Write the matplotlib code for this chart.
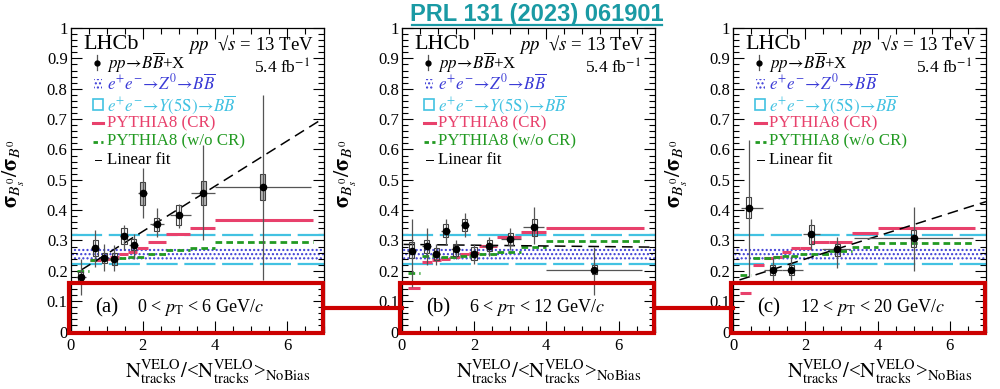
import numpy as np
import matplotlib
matplotlib.use("Agg")
import matplotlib.pyplot as plt
from matplotlib.lines import Line2D
from matplotlib.patches import Rectangle
from matplotlib.ticker import MultipleLocator, FuncFormatter

plt.rcParams['font.family'] = ['Liberation Serif', 'DejaVu Serif']
plt.rcParams['mathtext.fontset'] = 'stix'
plt.rcParams['hatch.linewidth'] = 1.0

# ============================================================
# 1. Data
# ============================================================
# PYTHIA8 bins (same for all panels)
py_lo = [0.18, 0.55, 0.85, 1.10, 1.35, 1.60, 1.85, 2.15, 2.65, 3.30, 4.00]
py_hi = [0.50, 0.85, 1.10, 1.35, 1.60, 1.85, 2.15, 2.65, 3.30, 4.00, 6.70]

# e+e- references
z0_band = [0.232, 0.278]
y5s_band = [0.222, 0.317]

# --- panel (a): 0 < pT < 6 GeV/c
a_x = [0.28, 0.68, 0.94, 1.21, 1.48, 1.75, 2.00, 2.39, 3.00, 3.67, 5.32]
a_xlo = [0.16, 0.56, 0.82, 1.09, 1.36, 1.62, 1.88, 2.20, 2.75, 3.33, 4.00]
a_xhi = [0.42, 0.80, 1.07, 1.34, 1.60, 1.87, 2.12, 2.60, 3.33, 4.00, 6.65]
a_y = [0.180, 0.274, 0.242, 0.240, 0.315, 0.285, 0.455, 0.355, 0.383, 0.455, 0.475]
a_stat_lo = [0.12, 0.213, 0.200, 0.200, 0.270, 0.240, 0.374, 0.310, 0.340, 0.301, 0.170]
a_stat_hi = [0.24, 0.334, 0.290, 0.285, 0.350, 0.320, 0.539, 0.407, 0.420, 0.614, 0.780]
a_sys_lo = [0.165, 0.250, 0.225, 0.220, 0.290, 0.268, 0.417, 0.330, 0.351, 0.416, 0.433]
a_sys_hi = [0.195, 0.300, 0.260, 0.260, 0.340, 0.305, 0.494, 0.374, 0.417, 0.497, 0.518]
a_cr = [0.164, 0.235, 0.238, 0.245, 0.255, 0.263, 0.274, 0.296, 0.321, 0.340, 0.367]
a_nocr = [0.200, 0.237, 0.238, 0.240, 0.242, 0.244, 0.246, 0.255, 0.268, 0.276, 0.296]
a_fit_x = [0.30, 7.00]
a_fit_y = [0.203, 0.703]

# --- panel (b): 6 < pT < 12 GeV/c
b_x = [0.28, 0.69, 0.95, 1.22, 1.49, 1.75, 2.00, 2.42, 3.00, 3.67, 5.33]
b_xlo = [0.16, 0.57, 0.83, 1.10, 1.37, 1.63, 1.88, 2.22, 2.75, 3.35, 4.00]
b_xhi = [0.40, 0.81, 1.07, 1.34, 1.61, 1.87, 2.12, 2.62, 3.30, 3.95, 6.66]
b_y = [0.265, 0.282, 0.255, 0.331, 0.271, 0.351, 0.255, 0.282, 0.305, 0.345, 0.203]
b_stat_lo = [0.147, 0.219, 0.220, 0.285, 0.240, 0.310, 0.222, 0.250, 0.270, 0.290, 0.120]
b_stat_hi = [0.370, 0.341, 0.290, 0.372, 0.300, 0.392, 0.290, 0.312, 0.340, 0.410, 0.280]
b_sys_lo = [0.241, 0.260, 0.235, 0.310, 0.250, 0.330, 0.235, 0.265, 0.285, 0.315, 0.188]
b_sys_hi = [0.296, 0.302, 0.275, 0.355, 0.290, 0.372, 0.278, 0.300, 0.325, 0.372, 0.220]
b_cr = [0.144, 0.230, 0.235, 0.240, 0.245, 0.255, 0.260, 0.283, 0.310, 0.329, 0.340]
b_nocr = [0.194, 0.249, 0.248, 0.247, 0.247, 0.248, 0.250, 0.256, 0.263, 0.279, 0.298]
b_fit_x = [0.05, 7.00]
b_fit_y = [0.287, 0.278]

# --- panel (c): 12 < pT < 20 GeV/c
c_x = [0.44, 1.10, 1.61, 2.17, 2.88, 5.00]
c_xlo = [0.22, 0.85, 1.35, 1.95, 2.45, 3.35]
c_xhi = [0.83, 1.35, 1.95, 2.40, 3.25, 6.65]
c_y = [0.408, 0.203, 0.203, 0.320, 0.271, 0.307]
c_stat_lo = [0.180, 0.160, 0.170, 0.270, 0.210, 0.200]
c_stat_hi = [0.630, 0.245, 0.250, 0.370, 0.310, 0.410]
c_sys_lo = [0.373, 0.185, 0.185, 0.290, 0.250, 0.280]
c_sys_hi = [0.444, 0.220, 0.220, 0.350, 0.290, 0.335]
c_cr = [0.126, 0.219, 0.243, 0.245, 0.263, 0.276, 0.276, 0.294, 0.294, 0.325, 0.340]
c_nocr = [0.186, 0.243, 0.243, 0.245, 0.248, 0.250, 0.255, 0.255, 0.265, 0.279, 0.293]
c_fit_x = [0.18, 7.00]
c_fit_y = [0.170, 0.428]

labels_panel = ["(a)", "(b)", "(c)"]
labels_pt = [r"0 < $p_{\rm T}$ < 6 GeV/$c$",
             r"6 < $p_{\rm T}$ < 12 GeV/$c$",
             r"12 < $p_{\rm T}$ < 20 GeV/$c$"]

legend_labels = [r"$pp\!\rightarrow\!B\overline{B}$+X",
                 r"$e^{+}e^{-}\!\rightarrow\!Z^{0}\!\rightarrow\!B\overline{B}$",
                 r"$e^{+}e^{-}\!\rightarrow\!Y\mathrm{(5S)}\!\rightarrow\!B\overline{B}$",
                 "PYTHIA8 (CR)", "PYTHIA8 (w/o CR)", "Linear fit"]

# ============================================================
# 2. Styles
# ============================================================
RED = "#e8416c"
GREEN = "#229a22"
CYAN = "#42c2e2"
BLUE = "#3b3bd6"
BOXRED = "#cc0000"
legend_colors = ["black", BLUE, CYAN, RED, GREEN, "black"]

fig = plt.figure(figsize=(10, 3.89), dpi=100)
lefts = [0.0705, 0.4017, 0.733]
W, B, H = 0.253, 0.1478, 0.780

panels = [
    dict(x=a_x, xlo=a_xlo, xhi=a_xhi, y=a_y, slo=a_stat_lo, shi=a_stat_hi,
         ylo=a_sys_lo, yhi=a_sys_hi, cr=a_cr, nocr=a_nocr, fx=a_fit_x, fy=a_fit_y, shade=[6, 9, 10]),
    dict(x=b_x, xlo=b_xlo, xhi=b_xhi, y=b_y, slo=b_stat_lo, shi=b_stat_hi,
         ylo=b_sys_lo, yhi=b_sys_hi, cr=b_cr, nocr=b_nocr, fx=b_fit_x, fy=b_fit_y, shade=[]),
    dict(x=c_x, xlo=c_xlo, xhi=c_xhi, y=c_y, slo=c_stat_lo, shi=c_stat_hi,
         ylo=c_sys_lo, yhi=c_sys_hi, cr=c_cr, nocr=c_nocr, fx=c_fit_x, fy=c_fit_y, shade=[]),
]

xlabel = (r"$\mathrm{N}_{\mathrm{tracks}}^{\mathrm{VELO}}/$<"
          r"$\mathrm{N}_{\mathrm{tracks}}^{\mathrm{VELO}}$>$_{\mathrm{NoBias}}$")


def draw_legend(ax):
    # hand-placed legend, ROOT style
    T = ax.transAxes
    ys = [0.886, 0.816, 0.748, 0.687, 0.625, 0.564]
    hx0, hx1, tx = 0.087, 0.130, 0.144
    hh = 0.017
    ym = ys[0]
    ax.plot([0.104, 0.104], [ym - 0.024, ym + 0.024], color="#555555", lw=0.9, transform=T)
    ax.plot([0.104], [ym], "o", color="black", ms=3.5, transform=T)
    ax.add_patch(Rectangle((hx0 + 0.004, ys[1] - hh), 0.034, 2 * hh, transform=T,
                           facecolor="none", edgecolor=BLUE, hatch="....", lw=0))
    ax.add_patch(Rectangle((hx0, ys[2] - hh), 0.040, 2 * hh, transform=T,
                           facecolor="none", edgecolor=CYAN, lw=1.2))
    ax.plot([hx0, hx1], [ys[3]] * 2, color=RED, lw=2.2, transform=T)
    ax.plot([hx0, hx1], [ys[4]] * 2, color=GREEN, lw=2.0, dashes=(1.6, 1.2), transform=T)
    ax.plot([hx0 + 0.008, hx1 - 0.008], [ys[5]] * 2, color="black", lw=0.7, transform=T)
    for yv, lab, col in zip(ys, legend_labels, legend_colors):
        ax.text(tx, yv, lab, color=col, fontsize=12.2, va="center", transform=T)


axes = []
for i, p in enumerate(panels):
    ax = fig.add_axes([lefts[i], B, W, H])
    axes.append(ax)
    ax.set_xlim(0, 7)
    ax.set_ylim(0, 1)

    # e+e- references
    ax.fill_between([0, 7], z0_band[0], z0_band[1], facecolor="none",
                    edgecolor=BLUE, hatch="....", linewidth=0, zorder=1)
    for yv in y5s_band:
        ax.plot([0, 7], [yv, yv], color=CYAN, lw=1.6, dashes=(14, 3), zorder=2)

    # PYTHIA8
    for lo, hi, v in zip(py_lo, py_hi, p["cr"]):
        ax.plot([lo, hi], [v, v], color=RED, lw=2.2, solid_capstyle="butt", zorder=3)
    for lo, hi, v in zip(py_lo, py_hi, p["nocr"]):
        ax.plot([lo, hi], [v, v], color=GREEN, lw=2.0, dashes=(2.4, 1.5), zorder=3)

    # linear fit
    ax.plot(p["fx"], p["fy"], color="black", lw=1.1, dashes=(7, 4), zorder=4)

    # data
    x = np.array(p["x"]); y = np.array(p["y"])
    for j in range(len(x)):
        fc = "#b5b5b5" if j in p["shade"] else "none"
        ax.add_patch(Rectangle((x[j] - 0.07, p["ylo"][j]), 0.14, p["yhi"][j] - p["ylo"][j],
                               facecolor=fc, edgecolor="#404040", lw=0.8, zorder=5))
    xerr = [x - np.array(p["xlo"]), np.array(p["xhi"]) - x]
    yerr = [y - np.array(p["slo"]), np.array(p["shi"]) - y]
    ax.errorbar(x, y, xerr=xerr, yerr=yerr, fmt="o", color="black", ms=4.5,
                ecolor="#555555", elinewidth=0.9, capsize=0, zorder=6)

    # ticks
    ax.xaxis.set_major_locator(MultipleLocator(2))
    ax.xaxis.set_minor_locator(MultipleLocator(0.5))
    ax.yaxis.set_major_locator(MultipleLocator(0.1))
    ax.yaxis.set_minor_locator(MultipleLocator(0.02))
    ax.yaxis.set_major_formatter(FuncFormatter(lambda v, pos: f"{v:g}"))
    ax.tick_params(which="both", direction="in", top=True, right=True, labelsize=12)
    ax.tick_params(which="major", length=8, width=0.8, pad=2)
    ax.tick_params(which="minor", length=4, width=0.8)
    ax.tick_params(axis="x", pad=5)
    for s in ax.spines.values():
        s.set_linewidth(0.9)

    ax.set_ylabel(r"$\mathbf{\sigma}_{B_s^0}/\mathbf{\sigma}_{B^0}$", fontsize=16)
    ax.yaxis.set_label_coords(-0.17, 0.52)
    ax.text(0.58, -0.135, xlabel, transform=ax.transAxes, ha="center",
            va="center", fontsize=15)

    # LHCb label and conditions
    ax.text(0.05, 0.947, "LHCb", transform=ax.transAxes, fontsize=16, va="center")
    ax.text(0.962, 0.947, "$pp$  \u221a$s$ = 13 TeV", transform=ax.transAxes,
            fontsize=13.5, va="center", ha="right")
    ax.text(0.945, 0.868, r"5.4 fb$^{\mathrm{-1}}$", transform=ax.transAxes,
            fontsize=12.5, va="center", ha="right")

    draw_legend(ax)

    # red highlight box
    ax.add_patch(Rectangle((-0.05, -0.006), 7.03, 0.166, fill=False, edgecolor=BOXRED,
                           lw=3, clip_on=False, zorder=10))
    ax.text(0.68, 0.078, labels_panel[i], fontsize=15, va="center", zorder=11)
    ax.text(1.85, 0.078, labels_pt[i], fontsize=13, va="center", zorder=11)

# connecting red lines
yc = 1 - 308 / 389
for x0, x1 in [(0.3235, 0.4017), (0.655, 0.733)]:
    fig.add_artist(Line2D([x0, x1], [yc, yc], transform=fig.transFigure,
                          color=BOXRED, lw=3))

# title
TEAL = "#1a9aa4"
fig.text(0.537, 0.962, "PRL 131 (2023) 061901", ha="center", va="center",
         fontsize=17, fontweight="bold", color=TEAL, family="Liberation Sans")
fig.add_artist(Line2D([0.412, 0.662], [1 - 25 / 389] * 2, transform=fig.transFigure,
                      color=TEAL, lw=1.6))

plt.savefig("out.png", dpi=100)
plt.close()
